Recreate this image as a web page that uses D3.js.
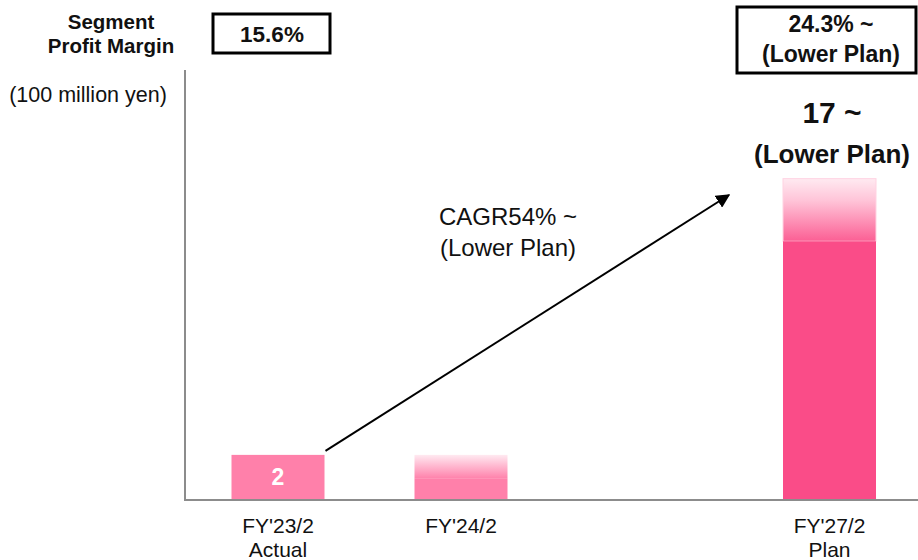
<!DOCTYPE html>
<html>
<head>
<meta charset="utf-8">
<script src="https://cdn.jsdelivr.net/npm/d3@7"></script>
<style>
  html, body { margin: 0; padding: 0; background: #fff; }
  svg { display: block; font-family: Arial, "Liberation Sans", Helvetica, sans-serif; }
</style>
</head>
<body>
<svg id="chart" width="918" height="560"></svg>
<script>
// Fiscal years on the x axis and their sub labels
const categories = ["FY'23/2", "FY'24/2", "FY'27/2"];
const subLabels = ["Actual", "", "Plan"];
// Segment profit (100 million yen): solid part and the faded upper part of each bar
const solidValues = [2, 0.7, 13.6];
const topValues = [2, 2, 17];
const barColors = ["#ff80aa", "#ff80aa", "#fa4c88"];
// Segment profit margin boxes
const marginLabels = ["15.6%", "24.3% ~"];

const svg = d3.select("#chart");
const W = 918;

// bar centres per category
const xCenter = d3.scaleOrdinal().domain(categories).range([278, 461, 829.5]);
const barW = 93;

const y = d3.scaleLinear().domain([-0.45, 22.9]).range([500, 70]);

// gradient for the faded (upper range) parts
const defs = svg.append("defs");
function fade(id, color) {
  const g = defs.append("linearGradient").attr("id", id)
    .attr("x1", 0).attr("y1", 0).attr("x2", 0).attr("y2", 1);
  g.append("stop").attr("offset", "0%").attr("stop-color", "#ffeaf1");
  g.append("stop").attr("offset", "35%").attr("stop-color", "#ffc4d8");
  g.append("stop").attr("offset", "100%").attr("stop-color", color);
}
fade("fade0", "#ff80aa");
fade("fade1", "#ff80aa");
fade("fade2", "#fb5f94");

const data = categories.map((c, i) => ({
  cat: c, sub: subLabels[i], solid: solidValues[i], top: topValues[i], color: barColors[i], i
}));

// faded upper part
svg.append("g").selectAll("rect")
  .data(data.filter(d => d.top > d.solid))
  .join("rect")
  .attr("x", d => xCenter(d.cat) - barW / 2)
  .attr("width", barW)
  .attr("y", d => y(d.top))
  .attr("height", d => y(d.solid) - y(d.top))
  .attr("fill", d => `url(#fade${d.i})`)
  .attr("stroke", d => d.i === 2 ? "#ffd3e2" : "none")
  .attr("stroke-width", 1);

// solid part
svg.append("g").selectAll("rect")
  .data(data)
  .join("rect")
  .attr("x", d => xCenter(d.cat) - barW / 2)
  .attr("width", barW)
  .attr("y", d => y(d.solid))
  .attr("height", d => y(y.domain()[0]) - y(d.solid))
  .attr("fill", d => d.color);

// axes lines
svg.append("line")
  .attr("x1", 185).attr("x2", 185)
  .attr("y1", y(y.domain()[1])).attr("y2", y(y.domain()[0]) + 1)
  .attr("stroke", "#8c8c8c").attr("stroke-width", 2);
svg.append("line")
  .attr("x1", 184).attr("x2", W)
  .attr("y1", y(y.domain()[0])).attr("y2", y(y.domain()[0]))
  .attr("stroke", "#8c8c8c").attr("stroke-width", 2);

// category labels
const catG = svg.append("g").attr("font-size", 21).attr("fill", "#111").attr("text-anchor", "middle");
catG.selectAll("text.cat").data(data).join("text").attr("class", "cat")
  .attr("x", d => xCenter(d.cat)).attr("y", 533).text(d => d.cat);
catG.selectAll("text.sub").data(data.filter(d => d.sub)).join("text").attr("class", "sub")
  .attr("x", d => xCenter(d.cat)).attr("y", 557).text(d => d.sub);

// value label inside the first bar
svg.append("text")
  .attr("x", xCenter(categories[0])).attr("y", (y(topValues[0]) + y(y.domain()[0])) / 2 + 8)
  .attr("text-anchor", "middle").attr("font-size", 23).attr("font-weight", "bold")
  .attr("fill", "#fff").text(topValues[0]);

// value label above the plan bar
const planG = svg.append("g").attr("text-anchor", "middle").attr("font-weight", "bold").attr("fill", "#111");
planG.append("text").attr("x", 832).attr("y", y(topValues[2]) - 56)
  .attr("font-size", 30).text(`${topValues[2]} ~`);
planG.append("text").attr("x", 832).attr("y", y(topValues[2]) - 16)
  .attr("font-size", 26).text("(Lower Plan)");

// unit label
svg.append("text").attr("x", 88).attr("y", 102).attr("text-anchor", "middle")
  .attr("font-size", 21.5).attr("fill", "#111").text("(100 million yen)");

// segment profit margin header
const hdr = svg.append("g").attr("text-anchor", "middle").attr("font-weight", "bold").attr("fill", "#111").attr("font-size", 20.5);
hdr.append("text").attr("x", 111).attr("y", 29).text("Segment");
hdr.append("text").attr("x", 111).attr("y", 53).text("Profit Margin");

svg.append("rect").attr("x", 213).attr("y", 14).attr("width", 117).attr("height", 39)
  .attr("fill", "none").attr("stroke", "#000").attr("stroke-width", 3);
svg.append("text").attr("x", 272).attr("y", 42).attr("text-anchor", "middle")
  .attr("font-size", 22.5).attr("font-weight", "bold").attr("fill", "#111").text(marginLabels[0]);

svg.append("rect").attr("x", 737).attr("y", 7).attr("width", 179).attr("height", 66)
  .attr("fill", "none").attr("stroke", "#000").attr("stroke-width", 3);
const rb = svg.append("g").attr("text-anchor", "middle").attr("font-weight", "bold").attr("fill", "#111").attr("font-size", 23);
rb.append("text").attr("x", 831).attr("y", 32).text(marginLabels[1]);
rb.append("text").attr("x", 831).attr("y", 62).text("(Lower Plan)");

// CAGR arrow from the actual bar to the plan bar
defs.append("marker").attr("id", "arrowhead")
  .attr("viewBox", "0 0 10 10").attr("refX", 9).attr("refY", 5)
  .attr("markerWidth", 7).attr("markerHeight", 7).attr("orient", "auto")
  .append("path").attr("d", "M0,0 L10,5 L0,10 Z").attr("fill", "#000");

svg.append("line")
  .attr("x1", xCenter(categories[0]) + barW / 2 + 1).attr("y1", y(topValues[0]) - 4)
  .attr("x2", 729).attr("y2", 195)
  .attr("stroke", "#000").attr("stroke-width", 2)
  .attr("marker-end", "url(#arrowhead)");

const cg = svg.append("g").attr("text-anchor", "middle").attr("font-size", 24).attr("fill", "#111");
cg.append("text").attr("x", 508).attr("y", 225).text("CAGR54% ~");
cg.append("text").attr("x", 508).attr("y", 256).text("(Lower Plan)");
</script>
</body>
</html>
